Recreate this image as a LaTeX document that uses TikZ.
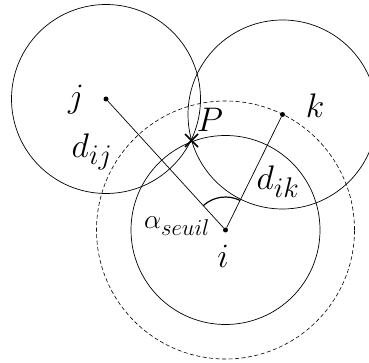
\documentclass[tikz,border=0pt]{standalone}
\usepackage{tikz}
\usetikzlibrary{positioning, calc, angles}
\newcommand{\grand}[1]{\scalebox{1.37}{#1}}

\begin{document}
\begin{tikzpicture}[x=1pt, y=-1pt,
  dot/.style={circle, fill=black, inner sep=0pt, minimum size=5pt},
  portee/.style={line width=0.7pt},
  seuil/.style={line width=0.6pt, dash pattern=on 4pt off 2.5pt},
  croix/.style={line width=1.6pt},
  lbl/.style={font=\fontsize{24.88}{30}\selectfont, inner sep=0pt}
]
  \useasboundingbox (0,0) rectangle (369,363);
  \clip (0,0) rectangle (369,363);
  % Sensor nodes
  \node[dot] (i) at (225.5,230) {};
  \node[dot] (j) at (106,99) {};
  \node[dot] (k) at (282.5,114.5) {};
  \coordinate (P) at (191.5,140.5);

  % Ranges
  \draw[portee] (i) circle[radius=94.5pt];
  \draw[portee] (j) circle[radius=94.5pt];
  \draw[portee] (k) circle[radius=94.5pt];
  \draw[seuil] (i) circle[radius=129pt];

  % Distances
  \draw[portee] (j) -- (i);
  \draw[portee] (k) -- (i);
  \pic[draw, line width=1.2pt, angle radius=33pt] {angle=k--i--j};

  % Point P
  \draw[croix] ($(P)+(-6.5,-6.5)$) -- ($(P)+(6.5,6.5)$);
  \draw[croix] ($(P)+(-6.5,6.5)$) -- ($(P)+(6.5,-6.5)$);

  % Labels
  \node[lbl] (lj) at (76,100) {\grand{$j$}};
  \node[lbl] (lk) at (315,106) {\grand{$k$}};
  \node[lbl] (li) at (223,256) {\grand{$i$}};
  \node[lbl] (lP) at (210,120) {\grand{$P$}};
  \node[lbl] (ldij) at (92,152) {\grand{$d_{ij}$}};
  \node[lbl] (ldik) at (278,182) {\grand{$d_{ik}$}};
  \node[lbl] (lalpha) at (177,226) {\scalebox{1.1}{$\alpha_{seuil}$}};
\end{tikzpicture}
\end{document}
